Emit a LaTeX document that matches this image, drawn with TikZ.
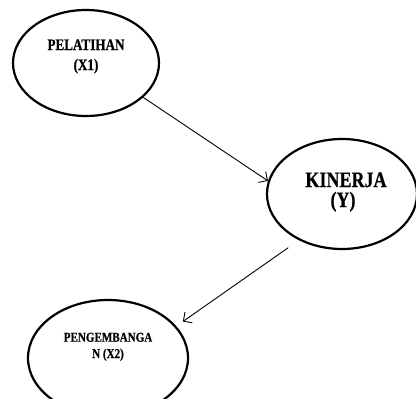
\documentclass[tikz,border=0pt]{standalone}
\usepackage{fontspec}
\setmainfont{Liberation Serif}
\newfontfamily\condserif[FakeStretch=0.82,FakeBold=0.6]{Liberation Serif}
\usetikzlibrary{shapes.geometric,arrows.meta}
\tikzset{
  oval/.style={draw=black, line width=2.2pt, ellipse, inner sep=0pt},
  lbl/.style={anchor=base, inner sep=0pt, text=black},
  conn/.style={line width=0.9pt, -{Straight Barb[length=6.5pt,width=13pt,line width=0.9pt]}}
}
\begin{document}
\begin{tikzpicture}[x=1pt,y=-1pt]
\useasboundingbox (0,0) rectangle (416,399);
\clip (0,0) rectangle (416,399);
% ellipses
\node[oval, minimum width=146pt, minimum height=106pt] (p) at (86,63) {};
\node[oval, minimum width=150pt, minimum height=110pt] (k) at (342,194) {};
\node[oval, minimum width=160pt, minimum height=116pt] (d) at (108,358) {};
% texts
\node[lbl, font=\condserif\bfseries\fontsize{16}{19}\selectfont] (p1) at (86,50) {PELATIHAN};
\node[lbl, font=\condserif\bfseries\fontsize{16}{19}\selectfont] (p2) at (86,70) {(X1)};
\node[lbl, font=\condserif\bfseries\fontsize{22}{26}\selectfont] (k1) at (346,187) {KINERJA};
\node[lbl, font=\condserif\bfseries\fontsize{22}{26}\selectfont] (k2) at (343,207) {(Y)};
\node[lbl, font=\condserif\bfseries\fontsize{13.5}{16}\selectfont] (d1) at (108,341.7) {PENGEMBANGA};
\node[lbl, font=\condserif\bfseries\fontsize{13.5}{16}\selectfont] (d2) at (108,358) {N (X2)};
% connectors
\draw[conn] (p.-31) -- (k.170);
\draw[conn, shorten <=13pt, shorten >=8pt] (k.-133) -- (d.25);
\end{tikzpicture}
\end{document}
